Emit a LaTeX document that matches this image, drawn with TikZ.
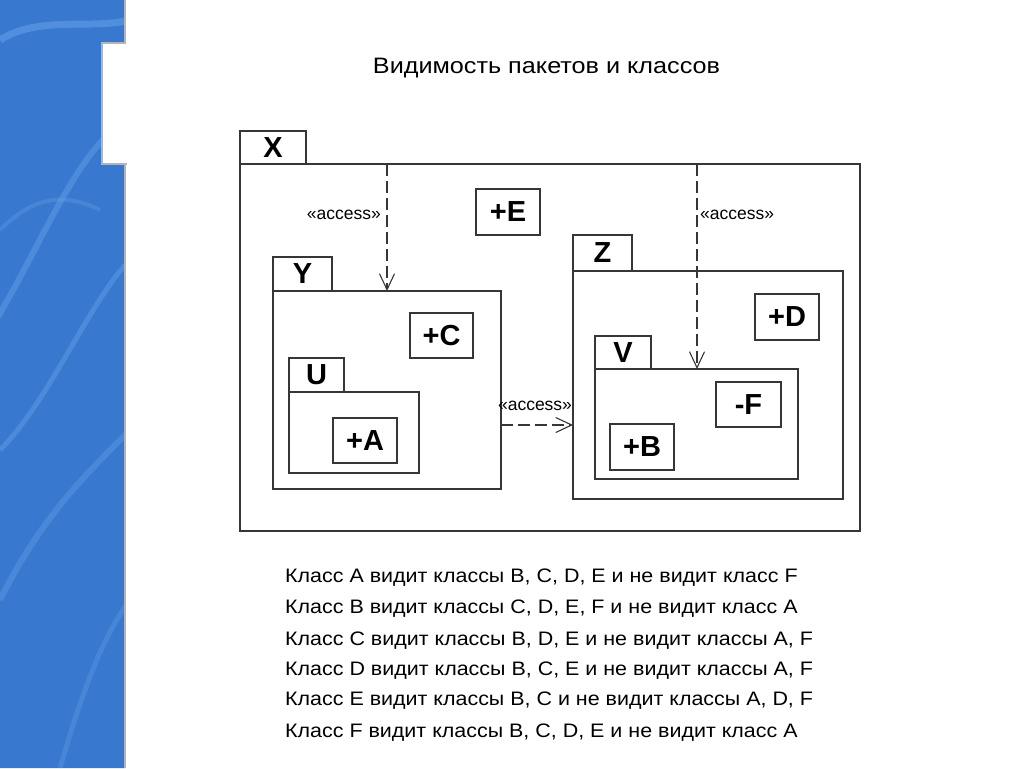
\documentclass[tikz,border=0pt]{standalone}
\usepackage{fontspec}
\setmainfont{Liberation Sans}
\newfontfamily\widefont[FakeStretch=1.1]{Liberation Sans}
\newfontfamily\titlefont[FakeStretch=1.13]{Liberation Sans}
\usetikzlibrary{arrows.meta}
\definecolor{linec}{HTML}{363636}
\definecolor{bgblue}{HTML}{3878CE}
\definecolor{lightblue}{HTML}{6AA6EE}
\definecolor{bracket}{HTML}{B4B4B4}
\tikzset{
  pkg/.style={draw=linec, line width=1.4pt, anchor=north west, inner sep=0pt, outer sep=0pt},
  cls/.style={pkg, font=\bfseries\fontsize{29}{30}\selectfont},
  tabn/.style={pkg, font=\bfseries\fontsize{29}{30}\selectfont},
  dep/.style={draw=linec, line width=1.2pt, dash pattern=on 12pt off 5pt, -{Straight Barb[length=16pt,width=15pt,line width=1.1pt]}},
  acc/.style={inner sep=0pt, font=\fontsize{17.5}{18}\selectfont},
  txt/.style={inner sep=0pt, anchor=base west, font=\widefont\fontsize{19.5}{21}\selectfont}
}
\begin{document}
\begin{tikzpicture}[x=1pt,y=-1pt]
\useasboundingbox (0,0) rectangle (1024,768);
% background strip
\fill[bgblue] (0,0) -- (125,0) -- (125,43) -- (102,43) -- (102,164) -- (125,164) -- (125,768) -- (0,768) -- cycle;
\begin{scope}
\clip (0,0) -- (125,0) -- (125,43) -- (102,43) -- (102,164) -- (125,164) -- (125,768) -- (0,768) -- cycle;
\draw[lightblue, opacity=0.5, line width=7pt] (0,40) .. controls (40,15) and (90,30) .. (130,20);
\draw[lightblue, opacity=0.4, line width=6pt] (-10,330) .. controls (40,250) and (80,140) .. (130,120);
\draw[lightblue, opacity=0.4, line width=5pt] (0,450) .. controls (50,400) and (90,300) .. (130,260);
\draw[lightblue, opacity=0.35, line width=6pt] (0,600) .. controls (40,520) and (80,480) .. (130,430);
\draw[lightblue, opacity=0.3, line width=5pt] (60,768) .. controls (80,700) and (100,640) .. (130,600);
\draw[lightblue, opacity=0.3, line width=4pt] (0,230) .. controls (30,200) and (60,190) .. (100,210);
\end{scope}
\draw[bracket, line width=2.5pt] (125,0) -- (125,43) -- (102,43) -- (102,164) -- (127,164);
\draw[bracket, line width=2.5pt] (125,164) -- (125,768);

% title
\node[inner sep=0pt, anchor=base, font=\titlefont\fontsize{22.3}{24}\selectfont] (title) at (546.5,73) {Видимость пакетов и классов};

% package X
\node[tabn, minimum width=66pt, minimum height=33pt] (Xt) at (240,131) {X};
\node[pkg, minimum width=620pt, minimum height=367pt] (Xb) at (240,164) {};
% package Y
\node[tabn, minimum width=59pt, minimum height=34pt] (Yt) at (273,257) {Y};
\node[pkg, minimum width=228pt, minimum height=198pt] (Yb) at (273,291) {};
% package U
\node[tabn, minimum width=55pt, minimum height=34pt] (Ut) at (289,358) {U};
\node[pkg, minimum width=130pt, minimum height=81pt] (Ub) at (289,392) {};
% package Z
\node[tabn, minimum width=59pt, minimum height=36pt] (Zt) at (573,235) {Z};
\node[pkg, minimum width=270pt, minimum height=228pt] (Zb) at (573,271) {};
% package V
\node[tabn, minimum width=56pt, minimum height=33pt] (Vt) at (595,336) {V};
\node[pkg, minimum width=203pt, minimum height=110pt] (Vb) at (595,369) {};

% classes
\node[cls, minimum width=64pt, minimum height=46pt] (E) at (476,189) {+E};
\node[cls, minimum width=63pt, minimum height=45pt] (C) at (410,313) {+C};
\node[cls, minimum width=64pt, minimum height=45pt] (A) at (333,418) {+A};
\node[cls, minimum width=64pt, minimum height=46pt] (D) at (755,294) {+D};
\node[cls, minimum width=65pt, minimum height=45pt] (F) at (716,382) {-F};
\node[cls, minimum width=64pt, minimum height=46pt] (B) at (610,424) {+B};

% dependencies
\coordinate (a1) at (387,164);
\coordinate (a2) at (697,164);
\coordinate (a3) at (537,425);
\draw[dep] (a1) -- (a1 |- Yb.north);
\draw[dep] (a2) -- (a2 |- Vb.north);
\draw[dep] (Yb.east |- a3) -- (Zb.west |- a3);
\node[acc, anchor=base east] (l1) at (381,219) {«access»};
\node[acc, anchor=base west] (l2) at (700,219) {«access»};
\node[acc, anchor=base] (l3) at (535,410) {«access»};

% text
\node[txt] (t1) at (285,582) {Класс A видит классы B, C, D, E и не видит класс F};
\node[txt] (t2) at (285,613) {Класс B видит классы C, D, E, F и не видит класс A};
\node[txt] (t3) at (285,645) {Класс C видит классы B, D, E и не видит классы A, F};
\node[txt] (t4) at (285,675) {Класс D видит классы B, C, E и не видит классы A, F};
\node[txt] (t5) at (285,705) {Класс E видит классы B, C и не видит классы A, D, F};
\node[txt] (t6) at (285,737) {Класс F видит классы B, C, D, E и не видит класс A};
\end{tikzpicture}
\end{document}
